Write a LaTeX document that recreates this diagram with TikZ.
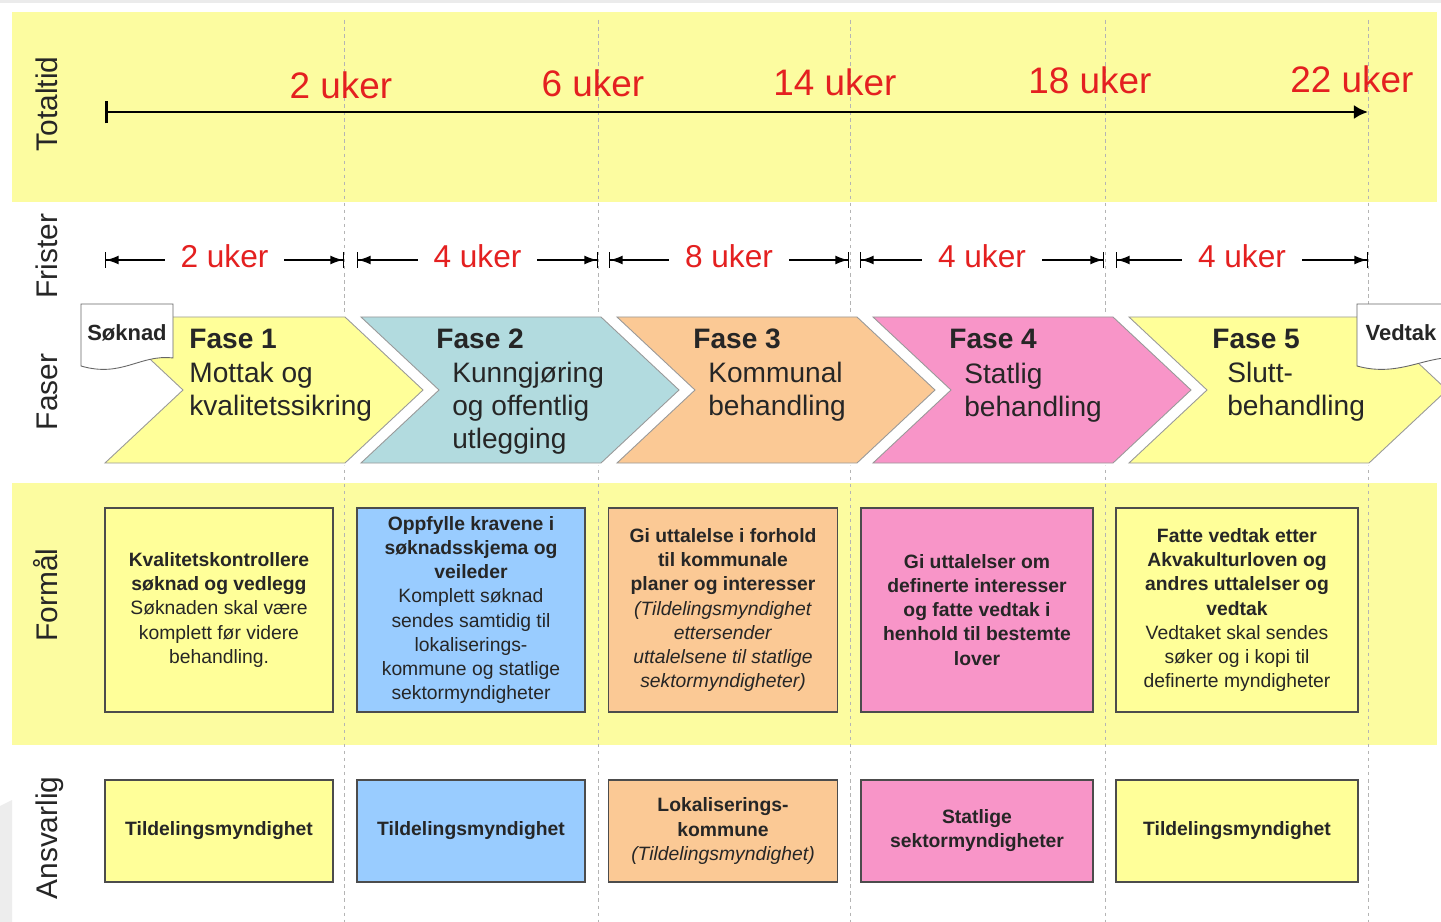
\documentclass[tikz,border=0pt]{standalone}
\usepackage{fontspec}
\setmainfont{Liberation Sans}
\usetikzlibrary{arrows.meta}

\definecolor{bandyellow}{HTML}{FCFCA0}
\definecolor{boxyellow}{HTML}{FFFF99}
\definecolor{phaseteal}{HTML}{B2DBDF}
\definecolor{boxblue}{HTML}{99CCFF}
\definecolor{boxorange}{HTML}{FBC995}
\definecolor{boxpink}{HTML}{F895C8}
\definecolor{ukered}{HTML}{E42020}
\definecolor{textgray}{HTML}{262626}
\definecolor{gridgray}{HTML}{B4B4B4}

\def\pxu{0.02cm}
\def\chevwidth{240}
\def\chevdepth{78}

\begin{document}
\begin{tikzpicture}[x=\pxu, y=-\pxu, text=textgray, font=\fontsize{11}{13.7}\selectfont]
    \tikzstyle{band}=[fill=bandyellow]
    \tikzstyle{guide}=[draw=gridgray, line width=0.4pt, dash pattern=on 2pt off 2pt]
    \tikzstyle{row label}=[rotate=90, anchor=base, inner sep=0pt, font=\fontsize{17}{20}\selectfont]
    \tikzstyle{week}=[text=ukered, inner sep=0pt, font=\fontsize{21}{24}\selectfont]
    \tikzstyle{deadline}=[text=ukered, fill=white, inner xsep=9pt, yshift=2pt, font=\fontsize{18}{21}\selectfont]
    \tikzstyle{deadline arrow}=[line width=0.7pt, {Bar[width=9pt]Latex[length=7pt,width=5pt]}-{Latex[length=7pt,width=5pt]Bar[width=9pt]}]
    \tikzstyle{phase}=[preaction={draw=white, line width=3pt}, draw=black!40, line width=0.5pt]
    \tikzstyle{phase title}=[anchor=north west, inner sep=0pt, font=\bfseries\fontsize{16}{18.8}\selectfont]
    \tikzstyle{phase text}=[anchor=north west, align=left, inner sep=0pt, font=\fontsize{16}{18.8}\selectfont]
    \tikzstyle{doc}=[fill=white, draw=black!60, line width=0.5pt]
    \tikzstyle{task}=[draw=black!70, line width=0.8pt, align=center, inner sep=2pt]

    \useasboundingbox (0,0) rectangle (1441,922);
    \fill[white] (0,0) rectangle (1441,922);
    \fill[black!8] (0,0) rectangle (1441,3);
    \fill[black!7] (0,922) -- (0,806) -- (12,800) -- (12,922) -- cycle;

    % Draw the yellow bands
    \fill[band] (12,12) rectangle (1437,202);
    \fill[band] (12,483) rectangle (1437,745);

    % Draw the dashed guide lines
    \foreach \x in {344,598,850,1105,1368}
        \draw[guide] (\x,20) -- (\x,922);

    % Row labels
    \node[row label] (L-tot) at (57,104) {Totaltid};
    \node[row label] (L-fri) at (57,256) {Frister};
    \node[row label] (L-fas) at (57,392) {Faser};
    \node[row label] (L-for) at (57,595) {Formål};
    \node[row label] (L-ans) at (57,838) {Ansvarlig};

    % Time axis
    \coordinate (T-0) at (105,112);
    \coordinate (T-22) at (1368,112);
    \draw[line width=1.6pt, {Bar[width=13pt]}-{Latex[length=8pt,width=8pt]}] (T-0) -- (T-22);
    \node[week] (W-2) at (341,85) {2 uker};
    \node[week] (W-6) at (593,83) {6 uker};
    \node[week] (W-14) at (835,82) {14 uker};
    \node[week] (W-18) at (1090,80) {18 uker};
    \node[week] (W-22) at (1352,79) {22 uker};

    % Deadlines for each phase
    \foreach \i/\a/\b/\wk in {1/105/344/2, 2/357/598/4, 3/609/849/8, 4/860/1104/4, 5/1116/1368/4} {
        \coordinate (D-\i-a) at (\a,260);
        \coordinate (D-\i-b) at (\b,260);
        \draw[deadline arrow] (D-\i-a) -- node[deadline] (D-\i) {\wk\ uker} (D-\i-b);
    }

    % Draw the phase chevrons
    \foreach \i/\x/\col in {1/105/boxyellow, 2/361/phaseteal, 3/617/boxorange, 4/873/boxpink, 5/1129/boxyellow}
        \draw[phase, fill=\col] (\x,317) -- ++(\chevwidth,0) -- ++(\chevdepth,73)
            -- ++(-\chevdepth,73) -- ++(-\chevwidth,0) -- ++(\chevdepth,-73) -- cycle;

    \foreach \i/\x in {1/189, 2/436, 3/693, 4/949, 5/1212}
        \node[phase title] (P-\i) at (\x,329) {Fase \i};
    \node[phase text] (B-1) at (189,362) {Mottak og\\kvalitetssikring};
    \node[phase text] (B-2) at (452,362) {Kunngjøring\\og offentlig\\utlegging};
    \node[phase text] (B-3) at (708,362) {Kommunal\\behandling};
    \node[phase text] (B-4) at (964,363) {Statlig\\behandling};
    \node[phase text] (B-5) at (1227,362) {Slutt-\\behandling};

    % Documents in and out
    \draw[doc] (81,304) -- (173,304) -- (173,358) .. controls (140,354) and (122,378) .. (81,366) -- cycle;
    \node[font=\bfseries\fontsize{12.5}{15}\selectfont] (S) at (127,333) {Søknad};
    \draw[doc] (1357,304) -- (1460,304) -- (1460,358) .. controls (1427,354) and (1400,378) .. (1357,366) -- cycle;
    \node[font=\bfseries\fontsize{12.5}{15}\selectfont] (V) at (1401,333) {Vedtak};

    % Purpose boxes
    \node[task, fill=boxyellow, minimum width=228*\pxu, minimum height=204*\pxu] (F-1) at (219,610)
        {\textbf{Kvalitetskontrollere}\\\textbf{søknad og vedlegg}\\Søknaden skal være\\komplett før videre\\behandling.};
    \node[task, fill=boxblue, minimum width=228*\pxu, minimum height=204*\pxu] (F-2) at (471,610)
        {\textbf{Oppfylle kravene i}\\\textbf{søknadsskjema og}\\\textbf{veileder}\\Komplett søknad\\sendes samtidig til\\lokaliserings-\\kommune og statlige\\sektormyndigheter};
    \node[task, fill=boxorange, minimum width=229*\pxu, minimum height=204*\pxu] (F-3) at (723,610)
        {\textbf{Gi uttalelse i forhold}\\\textbf{til kommunale}\\\textbf{planer og interesser}\\\textit{(Tildelingsmyndighet}\\\textit{ettersender}\\\textit{uttalelsene til statlige}\\\textit{sektormyndigheter)}};
    \node[task, fill=boxpink, minimum width=232*\pxu, minimum height=204*\pxu] (F-4) at (977,610)
        {\textbf{Gi uttalelser om}\\\textbf{definerte interesser}\\\textbf{og fatte vedtak i}\\\textbf{henhold til bestemte}\\\textbf{lover}};
    \node[task, fill=boxyellow, minimum width=242*\pxu, minimum height=204*\pxu] (F-5) at (1237,610)
        {\textbf{Fatte vedtak etter}\\\textbf{Akvakulturloven og}\\\textbf{andres uttalelser og}\\\textbf{vedtak}\\Vedtaket skal sendes\\søker og i kopi til\\definerte myndigheter};

    % Responsible boxes
    \node[task, fill=boxyellow, minimum width=228*\pxu, minimum height=102*\pxu] (A-1) at (219,831)
        {\textbf{Tildelingsmyndighet}};
    \node[task, fill=boxblue, minimum width=228*\pxu, minimum height=102*\pxu] (A-2) at (471,831)
        {\textbf{Tildelingsmyndighet}};
    \node[task, fill=boxorange, minimum width=229*\pxu, minimum height=102*\pxu] (A-3) at (723,831)
        {\textbf{Lokaliserings-}\\\textbf{kommune}\\\textit{(Tildelingsmyndighet)}};
    \node[task, fill=boxpink, minimum width=232*\pxu, minimum height=102*\pxu] (A-4) at (977,831)
        {\textbf{Statlige}\\\textbf{sektormyndigheter}};
    \node[task, fill=boxyellow, minimum width=242*\pxu, minimum height=102*\pxu] (A-5) at (1237,831)
        {\textbf{Tildelingsmyndighet}};
\end{tikzpicture}
\end{document}
